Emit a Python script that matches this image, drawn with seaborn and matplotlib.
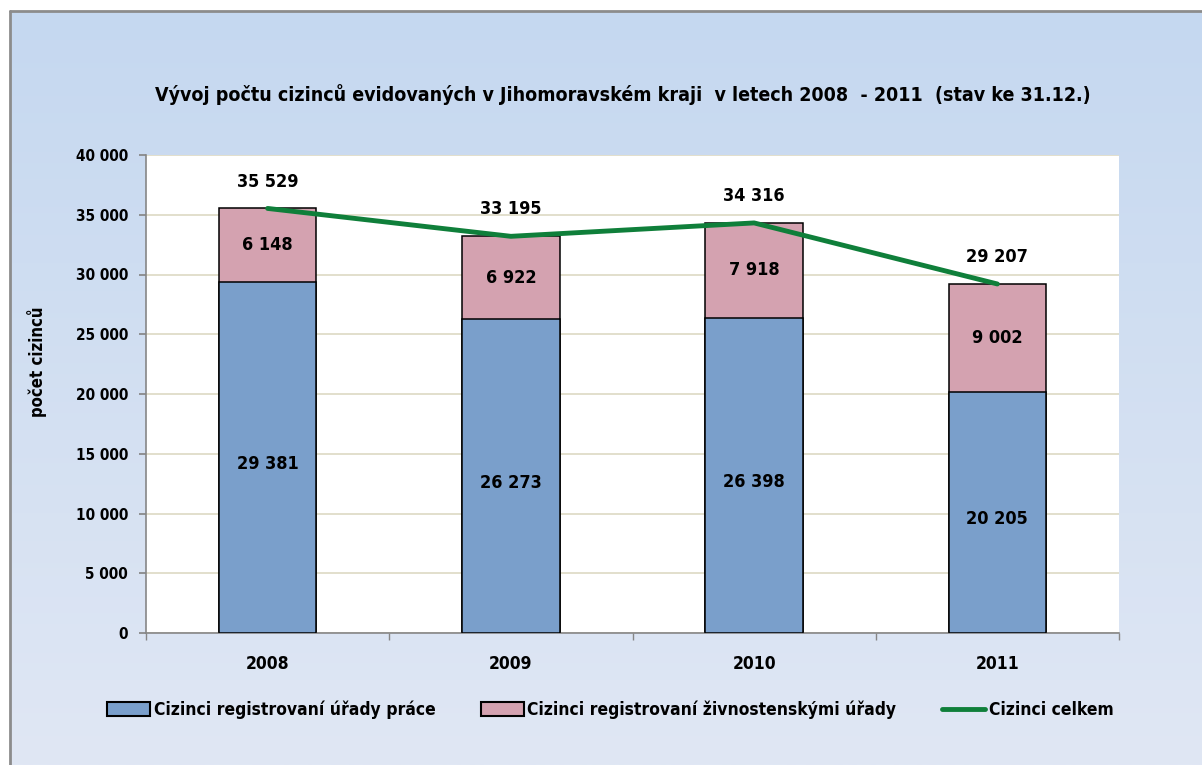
import numpy as np
import pandas as pd
import matplotlib
matplotlib.use('Agg')
import matplotlib.pyplot as plt
import matplotlib.patches as mpatches
import matplotlib.lines as mlines
import seaborn as sns

# Data
roky = ['2008', '2009', '2010', '2011']
urady_prace = [29381, 26273, 26398, 20205]
zivnostenske = [6148, 6922, 7918, 9002]
celkem = [35529, 33195, 34316, 29207]

df = pd.DataFrame({'rok': roky, 'prace': urady_prace,
                   'zivno': zivnostenske, 'celkem': celkem})

sns.set_theme(style='white')
plt.rcParams['font.family'] = ['DejaVu Sans']
plt.rcParams['font.stretch'] = 'condensed'
plt.rcParams['font.weight'] = 'bold'
plt.rcParams['text.color'] = 'black'
plt.rcParams['xtick.color'] = 'black'
plt.rcParams['ytick.color'] = 'black'

W, H = 1202, 765
fig = plt.figure(figsize=(W / 100, H / 100), dpi=100)
fig.patch.set_facecolor('white')

# gradient background
bg = fig.add_axes([10 / W, 0, 1 - 10 / W, 1 - 11 / H], zorder=-5)
grad = np.linspace(0, 1, 256).reshape(-1, 1)
top_c = np.array([0xc5, 0xd8, 0xf0]) / 255
bot_c = np.array([0xe0, 0xe7, 0xf4]) / 255
img = top_c[None, None, :] * (1 - grad[:, :, None]) + bot_c[None, None, :] * grad[:, :, None]
bg.imshow(img, aspect='auto', extent=[0, 1, 0, 1])
bg.set_axis_off()
fig.add_artist(mlines.Line2D([9.5 / W, 1], [1 - 10.5 / H, 1 - 10.5 / H], color='#8c8c8c', lw=2))
fig.add_artist(mlines.Line2D([9.5 / W, 9.5 / W], [0, 1 - 10.5 / H], color='#8c8c8c', lw=2))

ax = fig.add_axes([146 / W, 1 - 633 / H, (1119 - 146) / W, (633 - 155) / H])
ax.set_facecolor('white')

modra = '#7a9fcb'
ruzova = '#d4a2b0'
zelena = '#0f7f3a'

sns.barplot(data=df, x='rok', y='celkem', color=ruzova, width=0.4,
            edgecolor='black', linewidth=1.1, saturation=1, ax=ax, zorder=2)
sns.barplot(data=df, x='rok', y='prace', color=modra, width=0.4,
            edgecolor='black', linewidth=1.1, saturation=1, ax=ax, zorder=3)
sns.lineplot(x=np.arange(len(roky)), y=celkem, color=zelena, lw=3.5, ax=ax, zorder=4)


def fmt(v):
    return f'{v:,}'.replace(',', ' ')


for i in range(len(roky)):
    ax.text(i, urady_prace[i] / 2 - 550, fmt(urady_prace[i]), ha='center', va='center',
            fontsize=13, fontweight='bold', zorder=5)
    ax.text(i, urady_prace[i] + zivnostenske[i] / 2, fmt(zivnostenske[i]), ha='center',
            va='center', fontsize=13, fontweight='bold', zorder=5)
    ax.text(i, celkem[i] + 2250, fmt(celkem[i]), ha='center', va='center',
            fontsize=13, fontweight='bold', zorder=5)

ax.set_xlim(-0.5, 3.5)
ax.set_ylim(0, 40000)
ax.set_yticks(np.arange(0, 40001, 5000))
ax.set_yticklabels([fmt(v) for v in range(0, 40001, 5000)], fontsize=11, fontweight='bold')
ax.set_xticks(range(4))
ax.set_xticklabels(roky, fontsize=12.5, fontweight='bold')
ax.set_xticks(np.arange(-0.5, 4, 1), minor=True)
ax.tick_params(axis='x', which='major', length=0, pad=16)
ax.tick_params(axis='x', which='minor', length=5, color='#868686', direction='out', bottom=True)
ax.tick_params(axis='y', length=5, color='#868686', direction='out', left=True, pad=8)
ax.yaxis.grid(True, color='#ddd9c3', lw=1.2)
ax.set_axisbelow(True)
for s in ['top', 'right']:
    ax.spines[s].set_visible(False)
for s in ['left', 'bottom']:
    ax.spines[s].set_color('#868686')
    ax.spines[s].set_linewidth(1.2)
ax.set_xlabel('')
ax.set_ylabel('')

fig.text(37 / W, 1 - 362 / H, 'počet cizinců', rotation=90, ha='center', va='center',
         fontsize=12, fontweight='bold')
fig.text(623 / W, 1 - 95 / H,
         'Vývoj počtu cizinců evidovaných v Jihomoravském kraji  v letech 2008  - 2011  (stav ke 31.12.)',
         ha='center', va='center', fontsize=14, fontweight='bold')

handles = [
    mpatches.Patch(facecolor=modra, edgecolor='black', lw=1.5, label='Cizinci registrovaní úřady práce'),
    mpatches.Patch(facecolor=ruzova, edgecolor='black', lw=1.5, label='Cizinci registrovaní živnostenskými úřady'),
    mlines.Line2D([], [], color=zelena, lw=3.5, label='Cizinci celkem'),
]
fig.legend(handles=handles, loc='center', bbox_to_anchor=(610 / W, 1 - 710 / H), ncol=3,
           frameon=False, handlelength=2.5, handleheight=0.9, handletextpad=0.2, columnspacing=2.6,
           prop={'weight': 'bold', 'size': 12.5, 'stretch': 'condensed'})

fig.savefig('out.png', dpi=100)
